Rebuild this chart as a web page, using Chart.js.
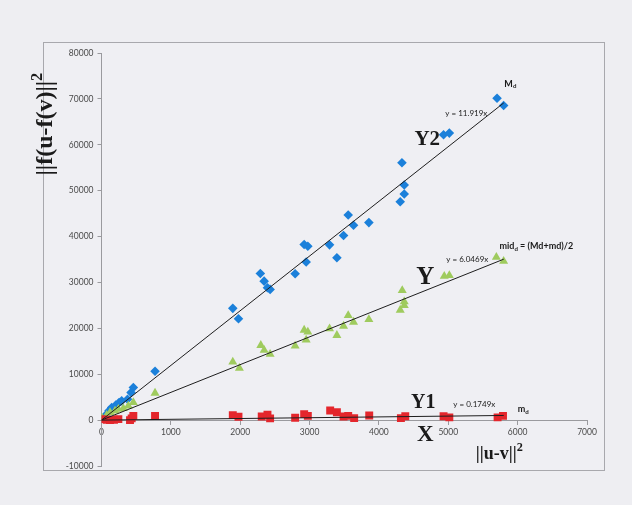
<!DOCTYPE html>
<html>
<head>
<meta charset="utf-8">
<script src="https://cdn.jsdelivr.net/npm/chart.js@4/dist/chart.umd.min.js"></script>
<style>
  html, body { margin: 0; padding: 0; background: #eeeef2; }
  #wrap { position: relative; width: 632px; height: 505px; overflow: hidden; }
  #frame { position: absolute; left: 43px; top: 42px; width: 562px; height: 429px;
           box-sizing: border-box; border: 1px solid #a8a8ad; background: #efeff3; }
  #chart { position: absolute; left: 0; top: 0; }
</style>
</head>
<body>
<div id="wrap">
  <div id="frame"></div>
  <canvas id="chart" width="632" height="505"></canvas>
</div>
<script>
// ||u-v||^2 distances and ||f(u)-f(v)||^2 values for the three mappings
const y2X = [75, 108, 147, 205, 253, 291, 375, 426, 459, 772, 1893, 1975, 2290, 2345, 2393, 2431,
             2792, 2922, 2951, 2975, 3288, 3394, 3490, 3557, 3634, 3855, 4307, 4332, 4365, 4365,
             4932, 5015, 5703, 5798];
const y2Y = [1300, 2020, 2760, 3260, 3850, 4200, 4560, 6000, 7100, 10650, 24350, 22100, 31960, 30280,
             28850, 28480, 31890, 38260, 34450, 37900, 38190, 35370, 40220, 44710, 42460, 43040,
             47600, 56090, 49280, 51230, 62170, 62540, 70150, 68550];

const yX = [3, 75, 123, 195, 243, 315, 387, 459, 772, 1893, 1988, 2297, 2345, 2431, 2792, 2922, 2951,
            2975, 3288, 3394, 3490, 3557, 3634, 3855, 4307, 4336, 4365, 4365, 4942, 5015, 5693, 5798];
const yY = [590, 1090, 1670, 2020, 2390, 2540, 3100, 3850, 5900, 12680, 11300, 16300, 15220, 14350,
            16150, 19630, 17460, 19200, 19930, 18480, 20500, 22830, 21370, 21960, 23980, 28260,
            25800, 25000, 31370, 31520, 35500, 34630];

const y1X = [3, 75, 123, 180, 243, 411, 435, 459, 772, 1893, 1975, 2310, 2393, 2431, 2792, 2922, 2975,
             3297, 3394, 3490, 3557, 3643, 3860, 4317, 4380, 4932, 5015, 5711, 5789];
const y1Y = [220, 70, 0, 70, 220, 0, 370, 930, 930, 1090, 720, 800, 1200, 370, 500, 1300, 930,
             2100, 1700, 800, 930, 430, 1000, 430, 850, 850, 590, 590, 930];

// fitted slopes (lines through the origin) and where each line stops
const slopes = [11.919, 6.0469, 0.1749];
const slopeLabels = ['y = 11.919x', 'y = 6.0469x', 'y = 0.1749x'];
const lineEndX = 5800;

// axis ranges and tick steps
const xRange = [0, 7000], xStep = 1000;
const yRange = [-10000, 80000], yStep = 10000;

const pts = (xs, ys) => xs.map((x, i) => ({ x: x, y: ys[i] }));
const fit = (k) => [{ x: 0, y: 0 }, { x: lineEndX, y: k * lineEndX }];

const axisGrey = '#9a9a9e';
const tickFont = { family: 'Lato, "Open Sans", sans-serif', size: 8.5 };
const plainNumber = { useGrouping: false };

// free-standing labels, anchored in data coordinates
const serifBold = (s) => 'bold ' + s + 'px "Liberation Serif", "DejaVu Serif", serif';
const sansFont = (s, b) => (b ? 'bold ' : '') + s + 'px Lato, "Open Sans", sans-serif';
const notes = [
  { runs: [{ t: 'Y2' }], x: 4697, y: 61090, size: 21, serif: true },
  { runs: [{ t: 'Y' }], x: 4668, y: 31090, size: 25, serif: true },
  { runs: [{ t: 'Y1' }], x: 4639, y: 3700, size: 20, serif: true },
  { runs: [{ t: 'X' }], x: 4668, y: -3300, size: 23, serif: true },
  { runs: [{ t: slopeLabels[0] }], x: 5260, y: 66740, size: 8 },
  { runs: [{ t: slopeLabels[1] }], x: 5274, y: 35000, size: 8 },
  { runs: [{ t: slopeLabels[2] }], x: 5375, y: 3480, size: 8 },
  { runs: [{ t: 'M' }, { t: 'd', sub: true }], x: 5895, y: 73300, size: 9, bold: true },
  { runs: [{ t: 'mid' }, { t: 'd', sub: true }, { t: ' = (Md+md)/2' }], x: 6270, y: 37830, size: 9, bold: true },
  { runs: [{ t: 'm' }, { t: 'd', sub: true }], x: 6082, y: 2390, size: 9, bold: true },
  { runs: [{ t: '||u-v||' }, { t: '2', sup: true }], x: 5735, y: -7400, size: 18, serif: true },
  { runs: [{ t: '||f(u-f(v)||' }, { t: '2', sup: true }], x: -800, y: 64500, size: 24, serif: true, rotate: true }
];

function runFont(n, r) {
  const s = (r.sub || r.sup) ? n.size * 0.68 : n.size;
  return n.serif ? serifBold(s) : sansFont(s, n.bold);
}

const notesPlugin = {
  id: 'notes',
  afterDatasetsDraw(chart) {
    const ctx = chart.ctx;
    const xs = chart.scales.x, ys = chart.scales.y;
    ctx.save();
    ctx.fillStyle = '#1a1a1a';
    ctx.textBaseline = 'middle';
    ctx.textAlign = 'left';
    notes.forEach(n => {
      const px = xs.getPixelForValue(n.x), py = ys.getPixelForValue(n.y);
      let w = 0;
      n.runs.forEach(r => { ctx.font = runFont(n, r); w += ctx.measureText(r.t).width; });
      ctx.save();
      ctx.translate(px, py);
      if (n.rotate) ctx.rotate(-Math.PI / 2);
      let cx = -w / 2;
      n.runs.forEach(r => {
        ctx.font = runFont(n, r);
        const dy = r.sub ? n.size * 0.28 : (r.sup ? -n.size * 0.34 : 0);
        ctx.fillText(r.t, cx, dy);
        cx += ctx.measureText(r.t).width;
      });
      ctx.restore();
    });
    ctx.restore();
  }
};

const trendStyle = { showLine: true, pointRadius: 0, borderColor: '#1e1e1e', borderWidth: 1, fill: false, order: 0 };

new Chart(document.getElementById('chart'), {
  type: 'scatter',
  data: {
    datasets: [
      Object.assign({ label: 'Y2 fit', data: fit(slopes[0]) }, trendStyle),
      Object.assign({ label: 'Y fit', data: fit(slopes[1]) }, trendStyle),
      Object.assign({ label: 'Y1 fit', data: fit(slopes[2]) }, trendStyle),
      { label: 'Y1', data: pts(y1X, y1Y), pointStyle: 'rect', pointRadius: 5.6,
        backgroundColor: '#e4262c', borderWidth: 0, order: 1 },
      { label: 'Y', data: pts(yX, yY), pointStyle: 'triangle', pointRadius: 5.2,
        backgroundColor: '#9fcb5e', borderWidth: 0, order: 2 },
      { label: 'Y2', data: pts(y2X, y2Y), pointStyle: 'rectRot', pointRadius: 4.8,
        backgroundColor: '#1b80da', borderWidth: 0, order: 3 }
    ]
  },
  options: {
    responsive: false,
    animation: false,
    devicePixelRatio: 1,
    layout: { padding: { left: 0, top: 53, right: 45, bottom: 39 } },
    plugins: { legend: { display: false }, tooltip: { enabled: false } },
    scales: {
      x: {
        type: 'linear', min: xRange[0], max: xRange[1], position: { y: 0 },
        ticks: { stepSize: xStep, font: tickFont, color: '#4a4a4a', padding: 3, format: plainNumber },
        grid: { drawOnChartArea: false, drawTicks: true, tickLength: 4, color: axisGrey },
        border: { color: axisGrey, width: 1 },
        afterFit(s) { s.height = 0; }
      },
      y: {
        type: 'linear', min: yRange[0], max: yRange[1], position: 'left',
        ticks: { stepSize: yStep, font: tickFont, color: '#4a4a4a', padding: 4, format: plainNumber },
        grid: { drawOnChartArea: false, drawTicks: true, tickLength: 4, color: axisGrey },
        border: { color: axisGrey, width: 1 },
        afterFit(s) { s.width = 101.5; }
      }
    }
  },
  plugins: [notesPlugin]
});
</script>
</body>
</html>
